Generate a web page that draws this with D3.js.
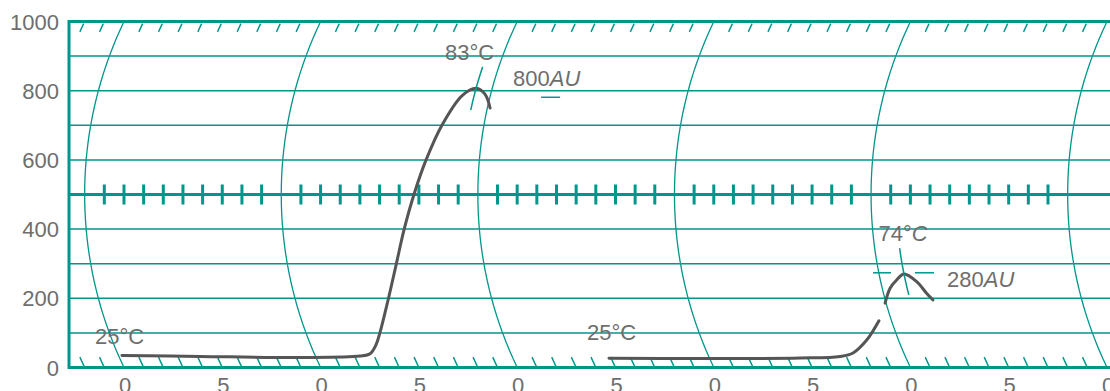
<!DOCTYPE html>
<html>
<head>
<meta charset="utf-8">
<script src="https://cdn.jsdelivr.net/npm/d3@7"></script>
<style>
body { margin: 0; background: #fff; }
svg { display: block; font-family: "Liberation Sans", Arial, sans-serif; }
</style>
</head>
<body>
<svg id="chart"></svg>
<script>
// recorder values: time in chart units, signal in AU
const yTicks = [0, 200, 400, 600, 800, 1000];
const gridValues = [100, 200, 300, 400, 600, 700, 800, 900];
const xLabelTimes = [0, 5, 10, 15, 20, 25, 30, 35, 40, 45, 50];
const xLabelText = ['0', '5', '0', '5', '0', '5', '0', '5', '0', '5', '0'];

const run1Time = [0.18, 4.13, 9.19, 12.27, 12.84, 13.32, 13.76, 14.73, 15.52, 16.16, 16.75, 17.29, 17.87, 18.57, 19.18, 19.71, 20.14];
const run1Value = [35, 32, 29, 33, 40, 65, 100, 197, 296, 397, 500, 600, 701, 786, 807, 790, 750];

const run2Time = [24.89, 29.51, 34.61, 36.68, 37.42, 38.40, 39.36];
const run2Value = [27, 26, 27.5, 32, 42, 80, 135];

const run3Time = [39.95, 40.40, 40.83, 41.27, 41.83, 42.20, 42.43];
const run3Value = [186, 229, 253, 270, 248, 214, 195];

const startTemps = ['25', '25'];
const peakTemps = ['83', '74'];
const peakAU = ['800', '280'];
const peakTimes = [19.18, 41.27];
const peakValues = [807, 270];

const teal = '#00968c';
const textColor = '#6e6e6e';
const width = 1110, height = 391;

const x = d3.scaleLinear().domain([0, 50]).range([124, 1107]);
const y = d3.scaleLinear().domain([0, 1000]).range([367.5, 21.5]);
const yMid = y(500);
const R = 400;
const C = Math.sqrt(R * R - Math.pow((y(0) - y(1000)) / 2, 2));

// pen arc: point on the curved time line through time u at value v
function arcPoint(u, v) {
    const py = y(v);
    const dy = py - yMid;
    return [x(u) + C - Math.sqrt(R * R - dy * dy), py];
}

function arcPath(u, v0, v1) {
    const pts = d3.range(0, 41).map(i => arcPoint(u, v0 + (v1 - v0) * i / 40));
    return d3.line()(pts);
}

const svg = d3.select('#chart')
    .attr('width', width)
    .attr('height', height);

const left = 69;

// horizontal grid
svg.append('g').selectAll('line')
    .data(gridValues)
    .enter()
    .append('line')
    .attr('x1', left).attr('x2', width)
    .attr('y1', d => y(d)).attr('y2', d => y(d))
    .attr('stroke', teal)
    .attr('stroke-width', 1.5);

// major time arcs
const majors = d3.range(0, 51, 10);
svg.append('g').selectAll('path')
    .data(majors)
    .enter()
    .append('path')
    .attr('d', d => arcPath(d, 0, 1000))
    .attr('fill', 'none')
    .attr('stroke', teal)
    .attr('stroke-width', 1.3);

// minor hatch marks at top and bottom
const minors = d3.range(-2, 51).filter(d => d % 10 !== 0);
svg.append('g').selectAll('path')
    .data(minors)
    .enter()
    .append('path')
    .attr('d', d => arcPath(d, 994, 970) + arcPath(d, 30, 4))
    .attr('fill', 'none')
    .attr('stroke', teal)
    .attr('stroke-width', 1.5);

// middle line with ticks
svg.append('line')
    .attr('x1', left).attr('x2', width)
    .attr('y1', yMid).attr('y2', yMid)
    .attr('stroke', teal)
    .attr('stroke-width', 3);

svg.append('g').selectAll('line')
    .data(minors.filter(d => arcPoint(d, 500)[0] > left + 10))
    .enter()
    .append('line')
    .attr('x1', d => arcPoint(d, 500)[0])
    .attr('x2', d => arcPoint(d, 500)[0])
    .attr('y1', yMid - 10).attr('y2', yMid + 10)
    .attr('stroke', teal)
    .attr('stroke-width', 3);

// frame
svg.append('line')
    .attr('x1', left).attr('x2', width)
    .attr('y1', y(1000)).attr('y2', y(1000))
    .attr('stroke', teal).attr('stroke-width', 3);
svg.append('line')
    .attr('x1', left).attr('x2', width)
    .attr('y1', y(0)).attr('y2', y(0))
    .attr('stroke', teal).attr('stroke-width', 3);
svg.append('line')
    .attr('x1', left).attr('x2', left)
    .attr('y1', y(1000) - 1.5).attr('y2', y(0) + 1.5)
    .attr('stroke', teal).attr('stroke-width', 3);

// axis labels
svg.append('g').selectAll('text')
    .data(yTicks)
    .enter()
    .append('text')
    .attr('x', 59)
    .attr('y', d => y(d) + 8)
    .attr('text-anchor', 'end')
    .attr('font-size', '22px')
    .attr('fill', textColor)
    .text(d => d);

svg.append('g').selectAll('text')
    .data(xLabelTimes)
    .enter()
    .append('text')
    .attr('x', d => x(d) + 1)
    .attr('y', 392.5)
    .attr('text-anchor', 'middle')
    .attr('font-size', '22px')
    .attr('fill', textColor)
    .text((d, i) => xLabelText[i]);

// signal trace
const trace = d3.line().curve(d3.curveCatmullRom.alpha(0.5));
[[run1Time, run1Value], [run2Time, run2Value], [run3Time, run3Value]].forEach(([t, v]) => {
    svg.append('path')
        .attr('d', trace(t.map((d, i) => arcPoint(d, v[i]))))
        .attr('fill', 'none')
        .attr('stroke', '#555')
        .attr('stroke-width', 3)
        .attr('stroke-linecap', 'round');
});

// start temperatures
const startPos = [[arcPoint(run1Time[0], run1Value[0]), -27, -11], [arcPoint(run2Time[0], run2Value[0]), -22, -18]];
startPos.forEach(([p, dx, dy], i) => {
    svg.append('text')
        .attr('x', p[0] + dx).attr('y', p[1] + dy)
        .attr('font-size', '22px')
        .attr('fill', textColor)
        .text(startTemps[i] + '°C');
});

// peak annotations
const peakStyle = [
    { mark: [869, 744], temp: [-6.5, -28], italicC: false, au: [37, -2], dashes: [[65, 84]], dashY: 9 },
    { mark: [345, 210], temp: [-1, -33], italicC: true, au: [43, 13], dashes: [[-31, -13], [11, 30]], dashY: -1.3 }
];
peakTimes.forEach((t, i) => {
    const p = arcPoint(t, peakValues[i]);
    const s = peakStyle[i];
    svg.append('path')
        .attr('d', arcPath(t, s.mark[0], s.mark[1]))
        .attr('fill', 'none')
        .attr('stroke', teal)
        .attr('stroke-width', 1.5);

    const tt = svg.append('text')
        .attr('x', p[0] + s.temp[0]).attr('y', p[1] + s.temp[1])
        .attr('text-anchor', 'middle')
        .attr('font-size', '22px')
        .attr('fill', textColor);
    tt.append('tspan').text(peakTemps[i] + '°');
    tt.append('tspan').attr('font-style', s.italicC ? 'italic' : 'normal').text('C');

    const at = svg.append('text')
        .attr('x', p[0] + s.au[0]).attr('y', p[1] + s.au[1])
        .attr('font-size', '22px')
        .attr('fill', textColor);
    at.append('tspan').text(peakAU[i]);
    at.append('tspan').attr('font-style', 'italic').text('AU');

    s.dashes.forEach(d => {
        svg.append('line')
            .attr('x1', p[0] + d[0]).attr('x2', p[0] + d[1])
            .attr('y1', p[1] + s.dashY).attr('y2', p[1] + s.dashY)
            .attr('stroke', teal)
            .attr('stroke-width', 1.5);
    });
});
</script>
</body>
</html>
